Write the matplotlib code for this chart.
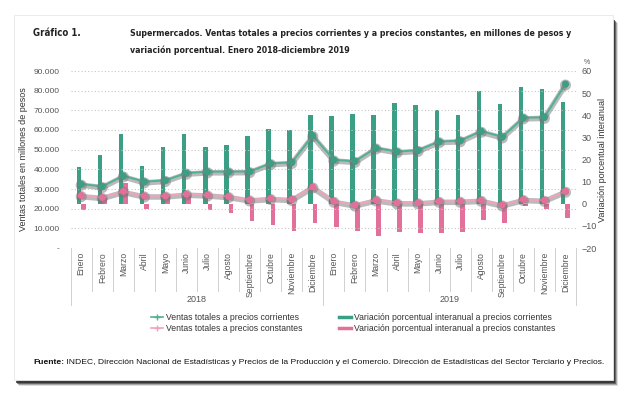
import numpy as np
import matplotlib
matplotlib.use('Agg')
import matplotlib.pyplot as plt
import matplotlib.patheffects as pe
from matplotlib import font_manager
from matplotlib.patches import Rectangle
from matplotlib.lines import Line2D
from matplotlib.ticker import FuncFormatter

plt.rcParams['font.family'] = ['Liberation Sans', 'DejaVu Sans']

meses = ['Enero', 'Febrero', 'Marzo', 'Abril', 'Mayo', 'Junio', 'Julio', 'Agosto',
         'Septiembre', 'Octubre', 'Noviembre', 'Diciembre']
anios = ['2018', '2019']

# ventas totales, millones de pesos
ventas_corrientes = [32500, 31300, 36700, 33700, 34400, 38100, 38800, 38800, 38900, 43000, 43500, 57200,
                     44800, 44100, 50900, 49000, 49700, 54100, 54600, 59400, 56500, 66200, 66500, 83400]
ventas_constantes = [26700, 25700, 28800, 26500, 26500, 27400, 27000, 26200, 24500, 25200, 24700, 31100,
                     23800, 21900, 24500, 23000, 23000, 23800, 23800, 24300, 21900, 24700, 24300, 28900]
# variacion porcentual interanual
var_corrientes = [16.5, 21.9, 31.5, 16.9, 25.5, 31.5, 25.7, 26.5, 30.5, 33.7, 33.3, 40.1,
                  39.6, 40.4, 39.9, 45.7, 44.6, 42.2, 40.2, 51.1, 45.1, 52.8, 51.7, 46.1]
var_constantes = [-2.7, 2.5, 9.4, -2.3, 3.3, 4.0, -2.7, -4.2, -8.0, -9.8, -12.5, -8.8,
                  -10.3, -12.1, -14.5, -12.7, -13.3, -13.0, -12.7, -7.3, -8.8, -1.2, -2.3, -6.4]

verde = '#3a9f84'
rosa = '#e2709a'
verde_linea = '#4fb096'
rosa_linea = '#f0a3bd'
gris = '#555555'

W, H = 630, 394
fig = plt.figure(figsize=(W / 100, H / 100), dpi=100)
rend = fig.canvas.get_renderer()

# fuente angosta para el titulo, si hay alguna instalada
angostas = [f for f in font_manager.fontManager.ttflist
            if f.stretch in ('condensed', 'semi-condensed', 'extra-condensed')
            and f.style == 'normal'
            and (f.weight in ('bold', 'semibold', 'demibold') or
                 (isinstance(f.weight, int) and 600 <= f.weight <= 700))]
if angostas:
    fp_titulo = font_manager.FontProperties(fname=angostas[0].fname)
else:
    fp_titulo = font_manager.FontProperties(family=['Liberation Sans'], weight='bold')


def ajustar(t, ancho):
    # achica el texto hasta el ancho en pixeles del original
    w = t.get_window_extent(rend).width
    t.set_fontsize(t.get_fontsize() * ancho / w)


# hoja con sombra
for i, a in enumerate([0.15, 0.3, 0.5, 0.75]):
    d = 5 - i
    fig.add_artist(Rectangle(((14 + d) / W, 1 - (381 + d) / H), 599 / W, 363 / H,
                             transform=fig.transFigure, facecolor='#2a2a2a', alpha=a,
                             edgecolor='none', zorder=0))
fig.add_artist(Rectangle((14 / W, 1 - 380 / H), 599 / W, 365 / H, transform=fig.transFigure,
                         facecolor='white', edgecolor='#e8e8e8', lw=0.6, zorder=1))

x0, x1, y0, y1 = 70.7, 576, 71, 248
ax = fig.add_axes([x0 / W, 1 - y1 / H, (x1 - x0) / W, (y1 - y0) / H])
ax.set_zorder(2)
ax2 = ax.twinx()
ax2.set_zorder(3)
ax.patch.set_visible(False)
ax2.patch.set_visible(False)

n = len(ventas_corrientes)
x = np.arange(n)
bw = 0.22
ax.bar(x - bw / 2, var_corrientes, bw, color=verde, zorder=3)
ax.bar(x + bw / 2, var_constantes, bw, color=rosa, zorder=3)
ax.set_ylim(-20, 60)
ax.set_yticks(np.arange(-20, 61, 10))
ax.yaxis.tick_right()
ax.yaxis.set_label_position('right')
ax.set_xlim(-0.5, n - 0.5)
ax.set_xticks([])

sombra = [pe.Stroke(linewidth=4, foreground='#777777', alpha=0.5, offset=(0, -0.8)), pe.Normal()]
ax2.plot(x, ventas_corrientes, color=verde_linea, lw=1.4, marker='o', ms=4,
         markerfacecolor=verde, markeredgecolor=verde, path_effects=sombra, zorder=4)
ax2.plot(x, ventas_constantes, color=rosa_linea, lw=1.4, marker='o', ms=4,
         markerfacecolor=rosa, markeredgecolor=rosa, path_effects=sombra, zorder=4)
ax2.set_ylim(0, 90000)
ax2.set_yticks(np.arange(0, 90001, 10000))
ax2.yaxis.tick_left()
ax2.yaxis.set_label_position('left')
ax2.yaxis.set_major_formatter(FuncFormatter(
    lambda v, p: '-' if v == 0 else f'{int(v):,}'.replace(',', '.')))
for v in range(10000, 90001, 10000):
    ax2.axhline(v, color='#c8c8c8', lw=0.8, ls=(0, (1, 2)), zorder=1)

for a in (ax, ax2):
    for s in a.spines.values():
        s.set_visible(False)
    a.tick_params(axis='y', length=0, labelsize=6.5, labelcolor=gris)
ax2.tick_params(axis='y', pad=8, labelsize=6.0)
ax.tick_params(axis='y', pad=4)

ax2.set_ylabel('Ventas totales en millones de pesos', fontsize=6.5, color='#333333', labelpad=4)
ax.set_ylabel('Variación porcentual interanual', fontsize=6.5, color='#333333',
              rotation=90, labelpad=1)
ax.text(1.022, 1.03, '%', transform=ax.transAxes, fontsize=5, color=gris, ha='center', va='bottom')

# eje de categorias tipo tabla
tr = ax.get_xaxis_transform()
hh = y1 - y0
for i in range(n + 1):
    largo = 57 if i % 12 == 0 else 43
    ax.plot([i - 0.5, i - 0.5], [0, -largo / hh], transform=tr, color='#d0d0d0',
            lw=0.7, clip_on=False)
for i in range(n):
    ax.text(i, -4 / hh, meses[i % 12], transform=tr, rotation=90, ha='center', va='top',
            fontsize=6.2, color=gris)
for j, anio in enumerate(anios):
    ax.text(j * 12 + 5.5, -51 / hh, anio, transform=tr, ha='center', va='center',
            fontsize=6.5, color=gris)

# leyenda
h1 = Line2D([], [], color=verde_linea, lw=1.2, marker='+', ms=4, markeredgecolor=verde_linea)
h2 = Line2D([], [], color=rosa_linea, lw=1.2, marker='+', ms=4, markeredgecolor=rosa_linea)
h3 = Line2D([], [], color=verde, lw=2.5)
h4 = Line2D([], [], color=rosa, lw=2.5)
fig.legend([h1, h2, h3, h4],
           ['Ventas totales a precios corrientes', 'Ventas totales a precios constantes',
            'Variación porcentual interanual a precios corrientes',
            'Variación porcentual interanual a precios constantes'],
           ncol=2, loc='center left', bbox_to_anchor=(143 / W, 1 - 323 / H), frameon=False,
           fontsize=6.2, handlelength=1.4, handletextpad=0.4, columnspacing=4.2,
           labelspacing=0.25, labelcolor='#333333')

# titulos
t0 = fig.text(33 / W, 1 - 33 / H, 'Gráfico 1.', fontproperties=fp_titulo,
              va='center', color='#222222')
t1 = fig.text(130 / W, 1 - 33 / H,
              'Supermercados. Ventas totales a precios corrientes y a precios constantes, en millones de pesos y',
              fontproperties=fp_titulo, va='center', color='#222222')
t2 = fig.text(130 / W, 1 - 50 / H, 'variación porcentual. Enero 2018-diciembre 2019',
              fontproperties=fp_titulo, va='center', color='#222222')
t1.set_fontsize(9.5)
ajustar(t1, 443)
t2.set_fontsize(t1.get_fontsize())
t0.set_fontsize(t1.get_fontsize() * 1.1)

# fuente
t = fig.text(33 / W, 1 - 362 / H, 'Fuente:', fontsize=6.6, fontweight='bold',
             va='center', color='#111111')
resto = ('INDEC, Dirección Nacional de Estadísticas y Precios de la Producción y el Comercio. '
         'Dirección de Estadísticas del Sector Terciario y Precios.')
t3 = fig.text(0, 1 - 362 / H, ' ' + resto, fontsize=6.6, va='center', color='#111111')
ancho_total = t.get_window_extent(rend).width + t3.get_window_extent(rend).width
esc = 567 / ancho_total
t.set_fontsize(6.6 * esc)
t3.set_fontsize(6.6 * esc)
t3.set_x(t.get_window_extent(rend).x1 / W)

fig.savefig('out.png', dpi=100)
